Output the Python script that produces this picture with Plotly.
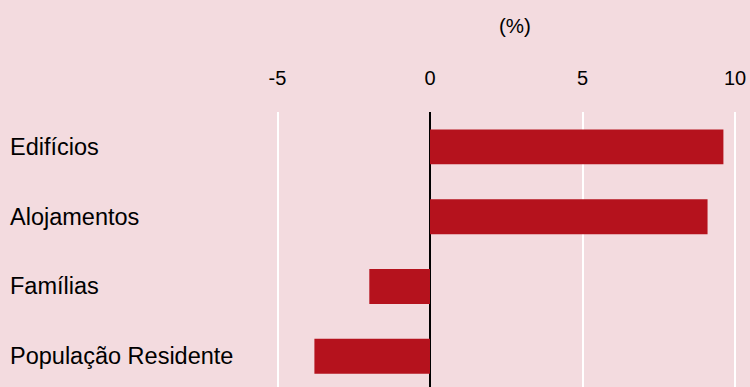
import plotly.graph_objects as go

categories = ["Edifícios", "Alojamentos", "Famílias", "População Residente"]
values = [9.62, 9.1, -1.99, -3.79]
tick_vals = [-5, 0, 5, 10]
tick_text = ["-5", "0", "5", "10"]

BG = "#f3dbdf"
BAR = "#b5121d"
FONT = "Liberation Sans, Arial, sans-serif"

fig = go.Figure(go.Bar(
    x=values, y=categories, orientation="h",
    marker=dict(color=BAR, line=dict(width=0)),
    width=0.5,
    hoverinfo="skip",
))

for c in categories:
    fig.add_annotation(x=8/750, xref="paper", y=c, yref="y", text=c,
                       showarrow=False, xanchor="left", yanchor="middle",
                       font=dict(family=FONT, size=23.5, color="#000"))

fig.add_annotation(x=515/750, xref="paper", y=1.316, yref="paper", text="(%)",
                   showarrow=False, xanchor="center", yanchor="middle",
                   font=dict(family=FONT, size=20.5, color="#000"))

fig.update_layout(
    width=750, height=387,
    margin=dict(l=0, r=0, t=112, b=0),
    paper_bgcolor=BG, plot_bgcolor=BG,
    showlegend=False,
    xaxis=dict(side="top", range=[-430/30.5, 320/30.5], tickvals=tick_vals, ticktext=tick_text,
               showgrid=True, gridcolor="white", gridwidth=2,
               zeroline=True, zerolinecolor="black", zerolinewidth=2,
               ticks="outside", ticklen=18, tickcolor="rgba(0,0,0,0)",
               tickfont=dict(family=FONT, size=20, color="#000"),
               showline=False, fixedrange=True),
    yaxis=dict(range=[3.44, -0.5], showticklabels=False, showgrid=False,
               zeroline=False, showline=False, ticks="", fixedrange=True),
)

fig.write_html("out.html", config={"displayModeBar": False},
               post_script="document.body.style.margin='0';document.body.style.background='%s';" % BG)
